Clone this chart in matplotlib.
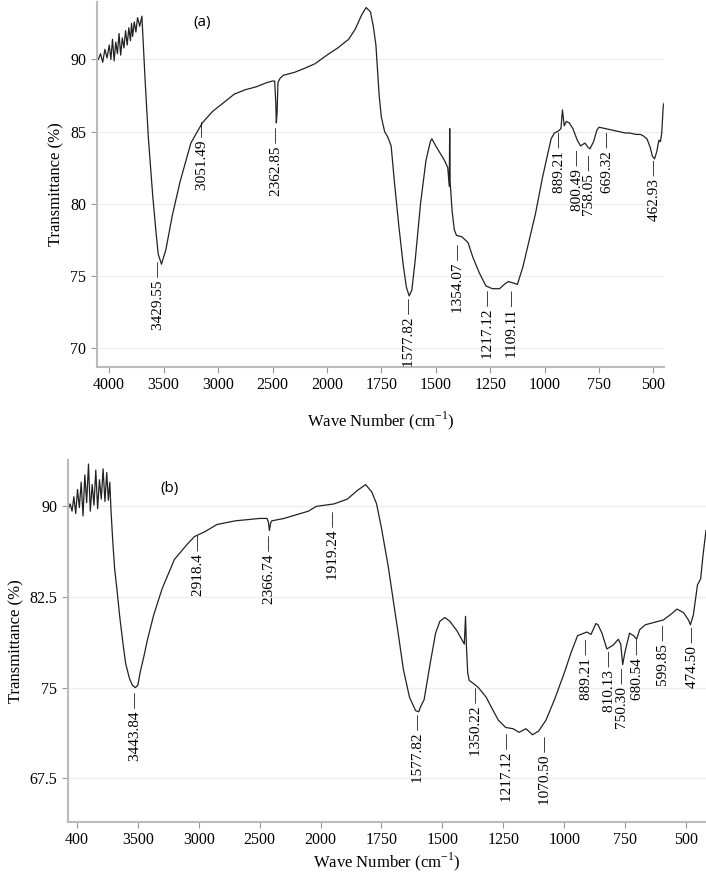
import numpy as np
import matplotlib
matplotlib.use("Agg")
import matplotlib.pyplot as plt

# ---------------- data ----------------
wn_a = [4100, 4080, 4060, 4040, 4020, 4000, 3985, 3970, 3955, 3940, 3925, 3910, 3895, 3880,
        3865, 3850, 3835, 3820, 3805, 3795, 3785, 3770, 3755, 3740, 3720, 3700, 3670, 3640,
        3600, 3570, 3550, 3520, 3480, 3420, 3350, 3250, 3145, 3050, 2950, 2850, 2750, 2650,
        2550, 2500, 2480, 2470, 2465, 2458, 2450, 2430, 2400, 2300, 2200, 2110, 2000, 1950,
        1900, 1870, 1840, 1820, 1800, 1787, 1775, 1770, 1760, 1750, 1735, 1720, 1705, 1690,
        1670, 1650, 1635, 1622, 1610, 1595, 1570, 1545, 1525, 1518, 1500, 1480, 1460, 1445,
        1438, 1436, 1434, 1425, 1415, 1405, 1380, 1352, 1330, 1300, 1270, 1240, 1207, 1185,
        1167, 1145, 1125, 1100, 1070, 1042, 1010, 985, 970, 955, 940, 925, 918, 910, 900,
        887, 870, 850, 835, 815, 800, 792, 775, 760, 750, 720, 690, 660, 630, 610, 580, 560,
        547, 530, 515, 505, 495, 485, 475, 468, 462, 455, 450]
t_a = [90.0, 90.4, 89.8, 90.7, 90.1, 91.0, 90.0, 91.4, 89.9, 91.2, 90.4, 91.8, 90.3, 91.5,
       90.8, 92.0, 91.0, 92.2, 91.3, 92.5, 91.6, 92.6, 91.9, 92.9, 92.3, 93.0, 88.5, 84.5,
       80.5, 78.0, 76.5, 75.8, 76.8, 79.2, 81.5, 84.2, 85.6, 86.4, 87.0, 87.6, 87.9, 88.1,
       88.4, 88.5, 88.5, 87.0, 85.6, 86.3, 88.4, 88.7, 88.9, 89.1, 89.4, 89.7, 90.3, 90.8,
       91.4, 92.1, 93.1, 93.6, 93.3, 92.3, 91.0, 89.8, 87.5, 86.0, 85.0, 84.6, 84.0, 81.5,
       78.5, 75.8, 74.2, 73.6, 74.0, 76.0, 80.0, 83.0, 84.3, 84.5, 84.0, 83.5, 83.0, 82.5,
       81.2, 85.2, 81.5, 79.5, 78.2, 77.8, 77.7, 77.3, 76.3, 75.2, 74.3, 74.1, 74.1, 74.4,
       74.6, 74.5, 74.4, 75.6, 77.5, 79.3, 81.8, 83.5, 84.5, 84.9, 85.0, 85.2, 86.5, 85.4,
       85.7, 85.6, 85.2, 84.4, 84.0, 84.2, 83.9, 83.8, 84.3, 85.1, 85.3, 85.2, 85.1, 85.0,
       84.9, 84.9, 84.8, 84.8, 84.7, 84.5, 83.9, 83.3, 83.1, 83.6, 84.4, 84.3, 84.9, 86.8, 87.0]

wn_b = [4070, 4055, 4040, 4025, 4010, 3995, 3980, 3965, 3950, 3935, 3920, 3905, 3890, 3875,
        3860, 3845, 3830, 3815, 3800, 3785, 3770, 3755, 3742, 3730, 3720, 3705, 3690, 3670,
        3650, 3620, 3600, 3570, 3545, 3520, 3500, 3480, 3450, 3420, 3370, 3300, 3200, 3100,
        3035, 2950, 2850, 2700, 2500, 2440, 2428, 2420, 2410, 2400, 2300, 2100, 2035, 1945,
        1890, 1850, 1815, 1790, 1770, 1750, 1722, 1700, 1685, 1660, 1635, 1610, 1597, 1590,
        1575, 1550, 1528, 1510, 1490, 1470, 1440, 1410, 1405, 1401, 1396, 1390, 1370, 1352,
        1320, 1297, 1270, 1240, 1210, 1185, 1157, 1130, 1105, 1075, 1040, 1000, 970, 945,
        907, 890, 870, 861, 845, 825, 800, 778, 768, 760, 750, 732, 715, 703, 690, 667, 630,
        593, 560, 537, 510, 490, 482, 470, 453, 440, 430, 418]
t_b = [89.8, 90.2, 89.6, 90.8, 89.4, 91.4, 89.9, 92.0, 89.2, 92.6, 90.3, 93.5, 89.6, 91.8,
       90.1, 93.0, 89.8, 92.2, 90.6, 93.1, 90.4, 92.8, 90.5, 92.0, 89.6, 87.0, 84.8, 83.0,
       81.0, 78.5, 77.0, 75.8, 75.2, 75.0, 75.2, 76.3, 77.6, 79.0, 81.0, 83.2, 85.6, 86.8,
       87.5, 87.9, 88.5, 88.8, 89.0, 89.0, 88.7, 88.0, 88.6, 88.8, 89.0, 89.6, 90.0, 90.2,
       90.6, 91.3, 91.8, 91.2, 90.2, 88.2, 85.0, 82.0, 80.0, 76.5, 74.2, 73.1, 73.0, 73.4,
       74.0, 77.0, 79.5, 80.5, 80.8, 80.5, 79.7, 78.6, 80.9, 78.3, 76.2, 75.6, 75.3, 75.0,
       74.2, 73.3, 72.3, 71.7, 71.6, 71.3, 71.6, 71.1, 71.4, 72.3, 74.0, 76.2, 78.0, 79.3,
       79.6, 79.4, 80.3, 80.2, 79.5, 78.2, 78.5, 79.0, 78.6, 76.9, 78.0, 79.5, 79.3, 79.0,
       79.8, 80.2, 80.4, 80.6, 81.1, 81.5, 81.2, 80.6, 80.2, 81.0, 83.5, 84.0, 86.0, 88.0]

peaks_a = ["3429.55", "3051.49", "2362.85", "1577.82", "1354.07", "1217.12", "1109.11",
           "889.21", "800.49", "758.05", "669.32", "462.93"]
peaks_b = ["3443.84", "2918.4", "2366.74", "1919.24", "1577.82", "1350.22", "1217.12",
           "1070.50", "889.21", "810.13", "750.30", "680.54", "599.85", "474.50"]

# annotation placement (wavenumber position, top of label in %)
pos_a = [(3550, 76.0), (3145, 85.7), (2465, 85.3), (1622, 73.4), (1395, 77.2), (1260, 74.0),
         (1147, 74.0), (930, 85.0), (847, 83.7), (795, 83.4), (712, 85.0), (495, 83.0)]
pos_b = [(3520, 74.6), (3000, 87.6), (2420, 87.6), (1945, 89.6), (1597, 72.8), (1360, 75.0),
         (1232, 71.2), (1075, 71.0), (907, 79.0), (815, 78.0), (760, 76.6), (700, 79.0),
         (593, 80.2), (472, 80.0)]

xt_a = [4000, 3500, 3000, 2500, 2000, 1750, 1500, 1250, 1000, 750, 500]
xl_a = ["4000", "3500", "3000", "2500", "2000", "1750", "1500", "1250", "1000", "750", "500"]
xl_b = ["400"] + xl_a[1:]
yt_a = [70, 75, 80, 85, 90]
yt_b = [67.5, 75, 82.5, 90]


def fwd(w):
    w = np.asarray(w, float)
    idx = np.where(w >= 2000, (4000 - w) / 500.0, 4 + (2000 - w) / 250.0)
    return -idx


def inv(u):
    idx = -np.asarray(u, float)
    return np.where(idx <= 4, 4000 - 500 * idx, 2000 - 250 * (idx - 4))


serif = "Liberation Serif"
fig = plt.figure(figsize=(7.06, 8.77), dpi=100)
axA = fig.add_axes([0.137, 0.582, 0.804, 0.416])
axB = fig.add_axes([0.096, 0.063, 0.904, 0.412])


def style(ax, wn, t, xlim, ylim, yt, xl, peaks, pos, tag, tagpos, lpad):
    ax.set_xscale("function", functions=(fwd, inv))
    ax.plot(wn, t, color="#222222", lw=0.9)
    ax.set_xlim(*xlim)
    ax.set_ylim(*ylim)
    ax.set_xticks(xt_a)
    ax.set_xticklabels(xl, fontfamily=serif, fontsize=11.5)
    ax.set_yticks(yt)
    ax.set_yticklabels([("%g" % v) for v in yt], fontfamily=serif, fontsize=11.5)
    for s in ("top", "right"):
        ax.spines[s].set_visible(False)
    for s in ("left", "bottom"):
        ax.spines[s].set_color("#bbbbbb")
        ax.spines[s].set_linewidth(1.5)
    ax.tick_params(colors="#999999", labelcolor="black", length=4)
    ax.grid(axis="y", color="#eeeeee", lw=1)
    ax.set_ylabel("Transmittance (%)", fontfamily=serif, fontsize=12)
    ax.set_xlabel("Wave Number (cm$^{\\mathregular{-1}}$)", fontfamily=serif, fontsize=12, labelpad=lpad)
    for lab, (x, y) in zip(peaks, pos):
        ax.text(x, y, lab + " \u2014", rotation=90, ha="center", va="top",
                fontfamily=serif, fontsize=11)
    ax.text(tagpos[0], tagpos[1], tag, fontfamily="Open Sans", fontsize=11)


style(axA, wn_a, t_a, (4115, 450), (68.7, 94.0), yt_a, xl_a, peaks_a, pos_a, "(a)", (3225, 92.3), 12)
style(axB, wn_b, t_b, (4075, 418), (63.9, 93.8), yt_b, xl_b, peaks_b, pos_b, "(b)", (3315, 91.2), 2)

fig.savefig("out.png", dpi=100)
